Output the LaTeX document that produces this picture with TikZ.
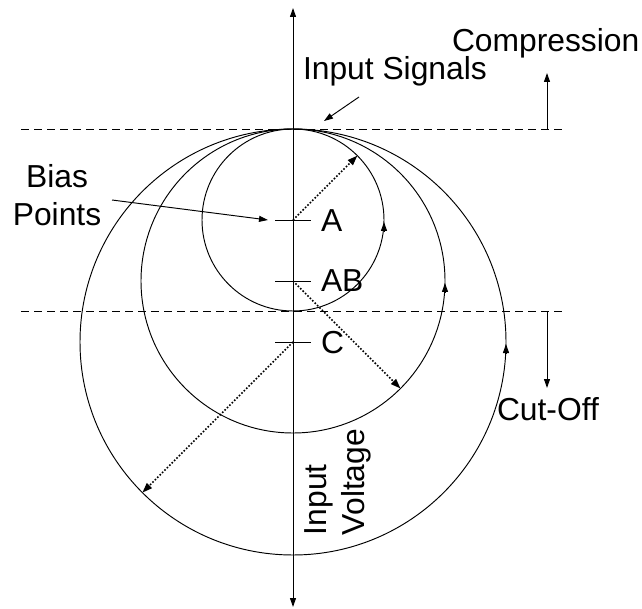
\documentclass[tikz,border=0pt]{standalone}
\usepackage{fontspec}
\setmainfont{Liberation Sans}
\usetikzlibrary{arrows.meta,calc}
\begin{document}
\begin{tikzpicture}[x=1pt,y=-1pt,
  lbl/.style={font=\fontsize{31.8}{38}\selectfont, inner sep=0pt, outer sep=0pt},
  thinline/.style={line width=0.95pt},
  tip/.style={thinline, -{Triangle[length=9pt,width=6pt]}},
  bothtips/.style={thinline, {Triangle[length=9pt,width=6pt]}-{Triangle[length=9pt,width=6pt]}},
  dashline/.style={thinline, dash pattern=on 8pt off 5pt},
  dotarrow/.style={line width=1.6pt, dash pattern=on 1.6pt off 1.8pt, -{Triangle[length=10pt,width=7pt]}},
  tick/.style={thinline}
]
\fill[white] (0,0) rectangle (642,609);
\useasboundingbox (0,0) rectangle (642,609);

% axis
\coordinate (axtop) at (293,8);
\coordinate (axbot) at (293,607);
\draw[bothtips] (axtop) -- (axbot);

% dashed limits
\coordinate (d1l) at (21,129);
\coordinate (d1r) at (566,129);
\coordinate (d2l) at (21,311);
\coordinate (d2r) at (566,311);
\draw[dashline] (d1l) -- (d1r);
\draw[dashline] (d2l) -- (d2r);

% bias point centres
\coordinate (cA) at (293,220);
\coordinate (cAB) at (293,281);
\coordinate (cC) at (293,342);

% circles
\draw[thinline] (cA) circle[radius=91pt];
\draw[thinline] (cAB) circle[radius=152pt];
\draw[thinline] (cC) circle[radius=213pt];

% direction arrows on circles
\draw[tip] ($(cA)+(91,11)$) -- ($(cA)+(91,2)$);
\draw[tip] ($(cAB)+(152,11)$) -- ($(cAB)+(152,2)$);
\draw[tip] ($(cC)+(213,11)$) -- ($(cC)+(213,2)$);

% ticks
\coordinate (tAl) at (275,220); \coordinate (tAr) at (311,220);
\coordinate (tABl) at (275,281); \coordinate (tABr) at (311,281);
\coordinate (tCl) at (275,342); \coordinate (tCr) at (311,342);
\draw[tick] (tAl) -- (tAr);
\draw[tick] (tABl) -- (tABr);
\draw[tick] (tCl) -- (tCr);

% tick labels
\node[lbl, anchor=base west] (lA) at (321,232) {A};
\node[lbl, anchor=base west] (lAB) at (321,292) {AB};
\node[lbl, anchor=base west] (lC) at (321,353) {C};

% radius arrows (dotted)
\coordinate (rA) at ($(cA)+(-45:91)$);
\coordinate (rAB) at ($(cAB)+(45:152)$);
\coordinate (rC) at ($(cC)+(135:213)$);
\draw[dotarrow] (cA) -- (rA);
\draw[dotarrow] (cAB) -- (rAB);
\draw[dotarrow] (cC) -- (rC);

% Bias Points
\node[lbl, align=center] (bias) at (57,195) {Bias\\Points};
\coordinate (biasfrom) at (112,200);
\coordinate (biasto) at (268,220);
\draw[tip] (biasfrom) -- (biasto);

% Input Signals
\node[lbl, anchor=base west] (insig) at (303,80) {Input Signals};
\coordinate (sigfrom) at (359,97);
\coordinate (sigto) at (324,121);
\draw[tip] (sigfrom) -- (sigto);

% Compression
\node[lbl, anchor=base west] (comp) at (452,52) {Compression};
\coordinate (compfrom) at (547,129);
\coordinate (compto) at (547,73);
\draw[tip] (compfrom) -- (compto);

% Cut-Off
\node[lbl, anchor=base west] (cut) at (497,420) {Cut-Off};
\coordinate (cutfrom) at (547,311);
\coordinate (cutto) at (547,388);
\draw[tip] (cutfrom) -- (cutto);

% Input Voltage
\node[lbl, align=left, rotate=90] (involt) at (338,482) {Input\\Voltage};
\end{tikzpicture}
\end{document}
